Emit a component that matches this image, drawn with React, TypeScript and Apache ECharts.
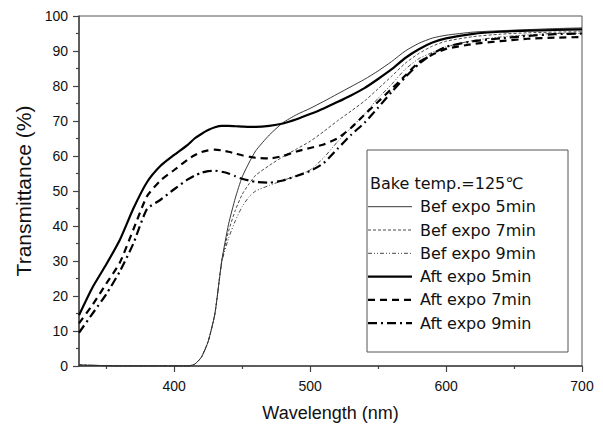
import React, { useEffect, useRef } from "react";
import * as echarts from "echarts";

const wavelengths = [330, 340, 350, 360, 370, 380, 390, 400, 410, 415, 420, 425, 430, 435, 440, 445, 450, 455, 460, 470, 480, 490, 500, 510, 520, 530, 540, 550, 560, 570, 580, 590, 600, 620, 640, 660, 680, 700];

const befExpo5 = [0.3, 0.2, 0.1, 0, 0, 0, 0, 0, 0, 0.5, 2.5, 7, 15, 30, 40.5, 48, 54, 58, 61.5, 66, 69.5, 71.8, 73.6, 75.6, 77.7, 79.8, 81.9, 84.3, 87, 90, 92.2, 93.7, 94.5, 95.4, 95.8, 96.1, 96.4, 96.6];
const befExpo7 = [0.3, 0.2, 0.1, 0, 0, 0, 0, 0, 0, 0.5, 2.5, 7, 15, 30, 38.5, 44.5, 49, 52, 54.5, 57.3, 59.8, 62, 64.2, 67, 70, 72.8, 75.7, 79.2, 82.8, 86.5, 89.3, 91.4, 92.8, 94.1, 94.8, 95.2, 95.4, 95.5];
const befExpo9 = [0.3, 0.2, 0.1, 0, 0, 0, 0, 0, 0, 0.5, 2.5, 7, 15, 29.5, 36.5, 41.5, 45.5, 48.3, 50, 51.6, 53, 54.4, 56, 59.5, 64, 68, 72, 76.5, 80.5, 84.8, 87.8, 89.6, 91.2, 93, 94, 94.6, 95, 95];
const aftExpo5 = [14.5, 22.5, 29, 36, 45, 52.5, 57.2, 60.3, 63.2, 65, 66.3, 67.4, 68.2, 68.6, 68.6, 68.5, 68.4, 68.3, 68.3, 68.6, 69.3, 70.5, 72, 73.6, 75.4, 77.3, 79.4, 82, 84.8, 88, 90.5, 92.4, 93.6, 94.9, 95.5, 95.8, 96, 96.2];
const aftExpo7 = [12.2, 17.5, 23.5, 29.5, 39, 48.5, 53, 56, 59, 60.2, 61.1, 61.6, 61.8, 61.6, 61.2, 60.7, 60.2, 59.8, 59.5, 59.3, 60, 61.3, 62.3, 63.3, 65, 68, 71.8, 75.5, 79.2, 83, 86.8, 89, 90.6, 92, 92.8, 93.5, 93.8, 94];
const aftExpo9 = [9.5, 15, 20.5, 27, 35, 44.8, 47.5, 50.5, 53.3, 54.4, 55.2, 55.7, 55.8, 55.5, 55, 54.2, 53.5, 53, 52.6, 52.4, 53, 54.3, 55.7, 58, 62, 66, 69.5, 73.8, 78.3, 82.5, 86.3, 89.2, 91.2, 92.8, 93.6, 94.3, 94.8, 95];

const seriesNames = ["Bef expo 5min", "Bef expo 7min", "Bef expo 9min", "Aft expo 5min", "Aft expo 7min", "Aft expo 9min"];
const xMajorTicks = [400, 500, 600, 700];
const xMinorTicks = [350, 450, 550, 650];
const legendTitle = "Bake temp.=125℃";

export default function App() {
  const ref = useRef<HTMLDivElement>(null);
  useEffect(() => {
    if (!ref.current) return;
    const chart = echarts.init(ref.current, undefined, { renderer: "svg" });
    const values = [befExpo5, befExpo7, befExpo9, aftExpo5, aftExpo7, aftExpo9];
    const styles: { width: number; type: any; color: string }[] = [
      { width: 0.9, type: "solid", color: "#222" },
      { width: 0.9, type: [3, 2], color: "#333" },
      { width: 0.9, type: [4, 2, 1, 2, 1, 2], color: "#333" },
      { width: 2.2, type: "solid", color: "#000" },
      { width: 2.2, type: [7, 5], color: "#000" },
      { width: 2.2, type: [9, 4, 2, 4], color: "#000" },
    ];
    const series = values.map((vals, i) => ({
      name: seriesNames[i],
      type: "line",
      data: wavelengths.map((w, j) => [w, vals[j]]),
      showSymbol: false,
      symbol: "none",
      smooth: 0.2,
      lineStyle: { width: styles[i].width, type: styles[i].type, color: styles[i].color },
      itemStyle: { color: styles[i].color },
      z: 2,
    }));
    const legendTop = 206.7;
    const legendStep = 23.3;
    const legendGraphics: any[] = [];
    seriesNames.forEach((name, i) => {
      const y = legendTop + i * legendStep;
      const dash = Array.isArray(styles[i].type) ? styles[i].type : null;
      legendGraphics.push({
        type: "line",
        shape: { x1: 368, y1: y, x2: 412, y2: y },
        style: { stroke: styles[i].color, lineWidth: styles[i].width, lineDash: dash },
        z: 5,
      });
      legendGraphics.push({
        type: "text",
        x: 420,
        y,
        style: { text: name, fontFamily: "DejaVu Sans", fontSize: 16, fill: "#111", verticalAlign: "middle", align: "left" },
        z: 5,
      });
    });
    const axisColor = "#444";
    chart.setOption({
      animation: false,
      backgroundColor: "#fff",
      grid: { left: 79, right: 21, top: 16, bottom: 62, show: true, borderColor: "#555", borderWidth: 1 },
      xAxis: [
        {
          type: "value",
          min: 330,
          max: 700,
          name: "Wavelength (nm)",
          nameLocation: "middle",
          nameGap: 38,
          nameTextStyle: { fontFamily: "Liberation Sans", fontSize: 18, color: "#111" },
          axisLine: { show: true, lineStyle: { color: axisColor, width: 1.5 } },
          axisTick: { show: true, customValues: xMajorTicks, length: 6, lineStyle: { color: axisColor, width: 1.2 } },
          axisLabel: { customValues: xMajorTicks, fontFamily: "Liberation Sans", fontSize: 14, color: "#111", margin: 13 },
          splitLine: { show: false },
        },
        {
          type: "value",
          min: 330,
          max: 700,
          position: "bottom",
          axisLine: { show: false },
          axisTick: { show: true, customValues: xMinorTicks, length: 3, lineStyle: { color: axisColor, width: 1.2 } },
          axisLabel: { show: false },
          splitLine: { show: false },
        },
      ],
      yAxis: {
        type: "value",
        min: 0,
        max: 100,
        interval: 10,
        name: "Transmittance (%)",
        nameLocation: "middle",
        nameGap: 45,
        nameTextStyle: { fontFamily: "Liberation Sans", fontSize: 21, color: "#111" },
        axisLine: { show: true, lineStyle: { color: axisColor, width: 1.5 } },
        axisTick: { show: true, length: 6, lineStyle: { color: axisColor, width: 1.2 } },
        minorTick: { show: true, splitNumber: 2, length: 3, lineStyle: { color: axisColor, width: 1.2 } },
        axisLabel: { fontFamily: "Liberation Sans", fontSize: 14, color: "#111", margin: 11 },
        splitLine: { show: false },
      },
      graphic: [
        {
          type: "rect",
          shape: { x: 367, y: 150, width: 201, height: 202 },
          style: { fill: "none", stroke: "#555", lineWidth: 1 },
          z: 3,
        },
        {
          type: "text",
          x: 370,
          y: 183,
          style: { text: legendTitle, fontFamily: "DejaVu Sans", fontSize: 16, fill: "#111", verticalAlign: "middle", align: "left" },
          z: 5,
        },
        ...legendGraphics,
      ],
      series,
    });
    return () => chart.dispose();
  }, []);
  return <div ref={ref} style={{ width: 603, height: 428, position: "absolute", left: 0, top: 0 }} />;
}
